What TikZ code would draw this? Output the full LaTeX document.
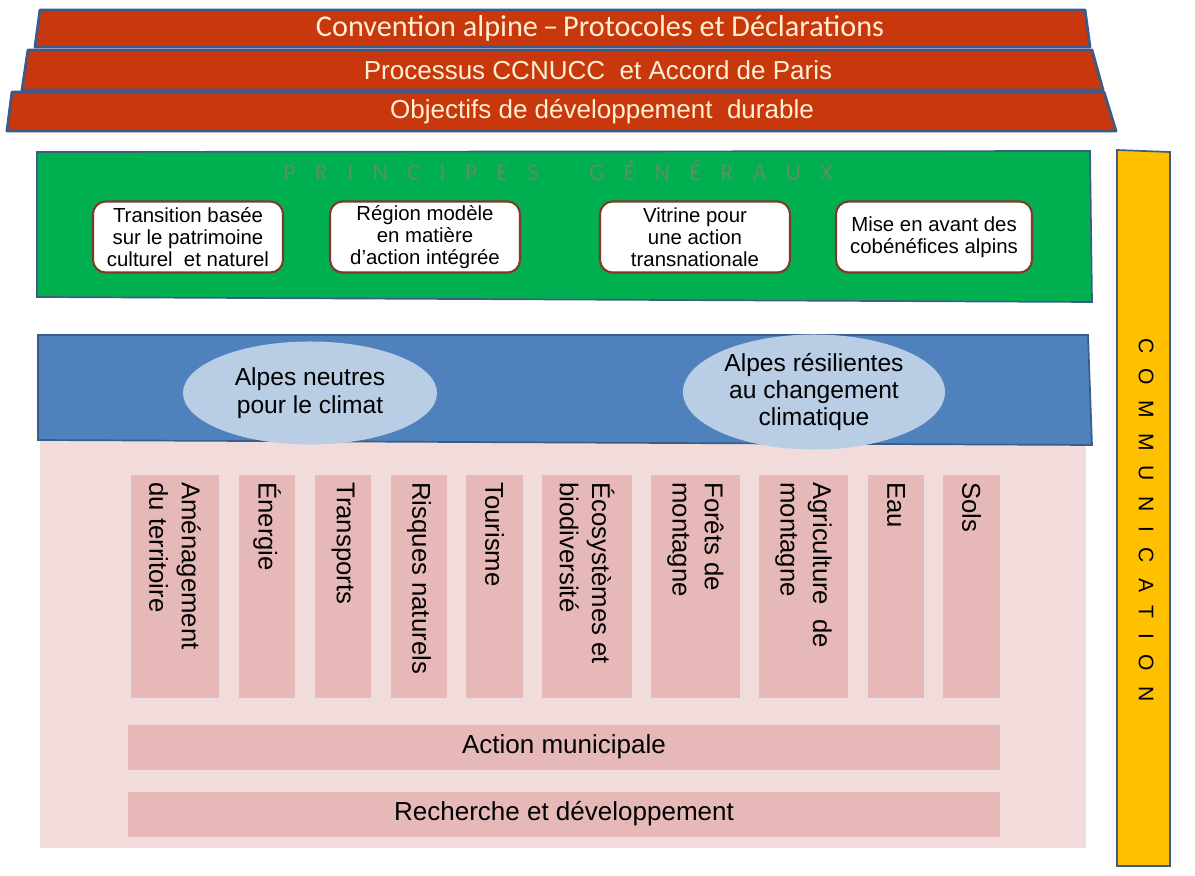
\documentclass[tikz,border=0pt]{standalone}
\usepackage{fontspec}
\setmainfont{Liberation Sans}
\newfontfamily\calib{Carlito}
\newfontfamily\calibspaced{Carlito}[LetterSpace=81]
\newfontfamily\arialspaced{Liberation Sans}[LetterSpace=72]
\usepackage{xcolor}
\definecolor{barRed}{RGB}{200,56,12}
\definecolor{frameBlue}{RGB}{63,90,134}
\definecolor{creamText}{RGB}{255,240,212}
\definecolor{princGreen}{RGB}{0,176,80}
\definecolor{titleGreen}{RGB}{96,140,106}
\definecolor{boxRed}{RGB}{128,56,42}
\definecolor{bandBlue}{RGB}{79,129,189}
\definecolor{bandEdge}{RGB}{56,93,138}
\definecolor{ellBlue}{RGB}{185,205,229}
\definecolor{paleRose}{RGB}{242,220,219}
\definecolor{colRose}{RGB}{230,185,184}
\definecolor{commYellow}{RGB}{255,192,0}
\usepackage{tikz}
\usetikzlibrary{shapes.geometric}

\begin{document}
\begin{tikzpicture}[x=0.025cm, y=-0.025cm, every node/.style={inner sep=0pt, align=center},
	bar/.style={fill=barRed, draw=frameBlue, line width=2pt, line join=round},
	bartext/.style={text=creamText, font=\fontsize{18.5}{20}\selectfont},
	principe/.style={draw=boxRed, line width=1.5pt, fill=white, rounded corners=9pt, minimum width=4.75cm, minimum height=1.775cm, font=\fontsize{14.5}{15.6}\selectfont},
	objectif/.style={ellipse, fill=ellBlue, font=\fontsize{17.5}{19.5}\selectfont},
	domaine/.style={fill=colRose},
	domtext/.style={rotate=-90, anchor=west, align=left, font=\fontsize{18.3}{23}\selectfont},
	transversal/.style={fill=colRose, minimum width=21.8cm, minimum height=1.125cm, font=\fontsize{18.5}{20}\selectfont}]
	\useasboundingbox (0,0) rectangle (1195,875);
	% cadres internationaux
	\filldraw[bar] (40,10) -- (1085,10) -- (1090,47) -- (35,47) -- cycle;
	\node[bartext, font=\calib\fontsize{21.5}{23}\selectfont] (convention) at (600,28) {Convention alpine\,–\,Protocoles et Déclarations};
	\filldraw[bar] (28,50) -- (1092,50) -- (1103,90) -- (22,90) -- cycle;
	\node[bartext] (ccnucc) at (598,70) {Processus CCNUCC\ \ et Accord de Paris};
	\filldraw[bar] (12,92) -- (1104,92) -- (1116,131) -- (7,131) -- cycle;
	\node[bartext] (odd) at (602,112) {Objectifs de développement\ \ durable};

	% principes
	\filldraw[fill=princGreen, draw=frameBlue, line width=1.2pt] (37,152) -- (1090,151) -- (1092,302) -- (37,297) -- cycle;
	\node[text=titleGreen, font=\calibspaced\fontsize{17}{17}\selectfont] (titre) at (558,171) {PRINCIPES\hspace{36pt}GÉNÉRAUX};
	\node[principe] (heritage) at (188,237) {Transition basée\\sur le patrimoine\\culturel\ \ et naturel};
	\node[principe] (modele) at (425,237) {Région modèle\\en matière\\d'action intégrée};
	\node[principe] (vitrine) at (695,237) {Vitrine pour\\une action\\transnationale};
	\node[principe, minimum width=4.9cm] (cobenef) at (934,237) {Mise en avant des\\cobénéfices alpins};

	% objectifs et domaines
	\fill[paleRose] (40,440) rectangle (1086,848);
	\filldraw[fill=bandBlue, draw=bandEdge, line width=1.2pt] (38,335) -- (1088,335) -- (1092,445) -- (38,440) -- cycle;
	\node[objectif, minimum width=6.35cm, minimum height=2.575cm] (neutres) at (310,393) {Alpes neutres\\pour le climat};
	\node[objectif, minimum width=6.55cm, minimum height=2.875cm] (resilientes) at (814,392) {Alpes résilientes\\au changement\\climatique};

	\foreach \xa/\xb/\nom/\txt in {131/219/amenag/{Aménagement\\du territoire}, 239/295/energie/{Énergie},
		315/371/transports/{Transports}, 391/447/risques/{Risques naturels}, 466/523/tourisme/{Tourisme},
		542/632/ecosys/{Écosystèmes et\\biodiversité}, 651/740/forets/{Forêts de\\montagne},
		759/848/agri/{Agriculture\ \ de\\montagne}, 868/924/eau/{Eau}, 943/1000/sols/{Sols}}{
		\fill[domaine] (\xa,475) rectangle (\xb,698);
		\node[domtext] (\nom) at ({(\xa+\xb)/2},482) {\txt};
	}
	\node[transversal] (municipal) at (564,747) {Action municipale};
	\node[transversal] (recherche) at (564,814) {Recherche et développement};

	% communication
	\filldraw[fill=commYellow, draw=frameBlue, line width=1.2pt] (1117,150) -- (1170,152) -- (1170,866) -- (1117,866) -- cycle;
	\node[rotate=-90, font=\arialspaced\fontsize{15}{15}\selectfont] (comm) at (1146,520) {COMMUNICATION};
\end{tikzpicture}
\end{document}
